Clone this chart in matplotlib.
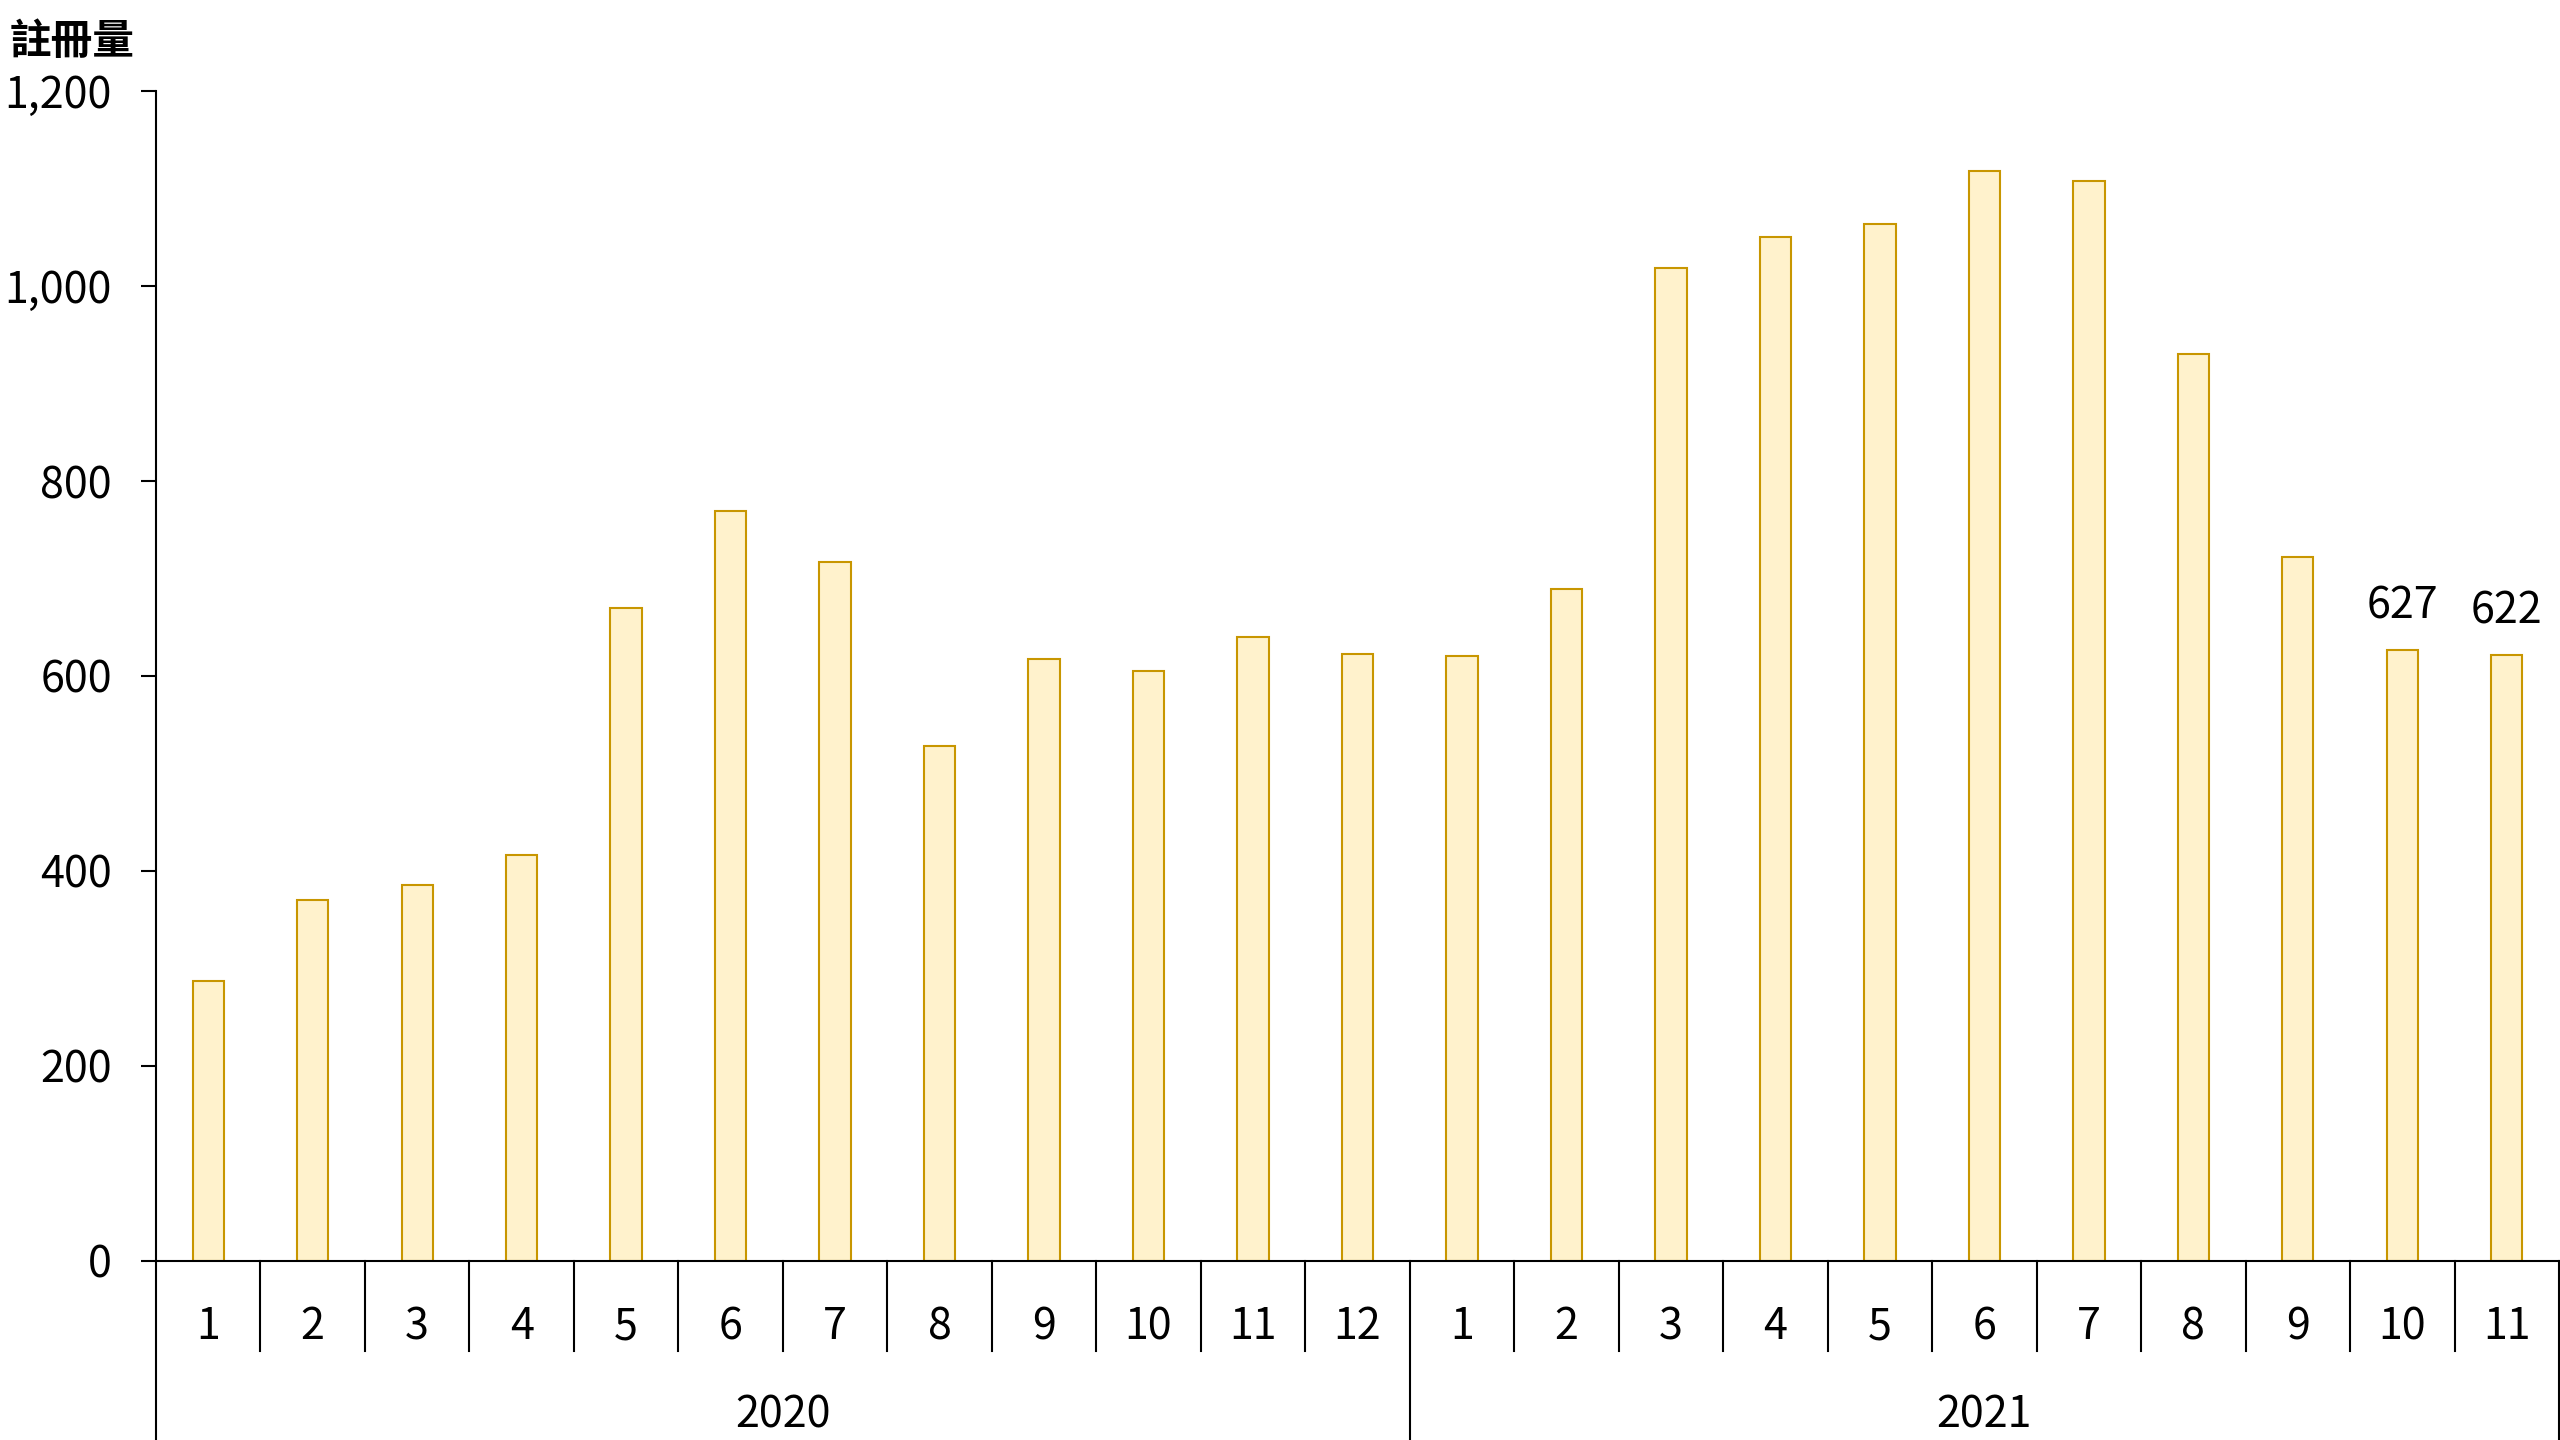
import matplotlib
matplotlib.use("Agg")
import matplotlib.pyplot as plt
import matplotlib.transforms as mtransforms
from matplotlib.ticker import FuncFormatter

plt.rcParams['font.family'] = ['Noto Sans CJK TC', 'DejaVu Sans']

# ---- data ----
months = ["1", "2", "3", "4", "5", "6", "7", "8", "9", "10", "11", "12",
          "1", "2", "3", "4", "5", "6", "7", "8", "9", "10", "11"]
years = ["2020", "2021"]
year_counts = [12, 11]
values = [287, 370, 385, 416, 670, 769, 717, 528, 617, 605, 640, 623,
          620, 689, 1019, 1051, 1064, 1118, 1108, 930, 722, 627, 622]
labeled_idx = [21, 22]
y_ticks = [0, 200, 400, 600, 800, 1000, 1200]
title = "註冊量"

# ---- figure ----
W, H = 2560, 1440
fig = plt.figure(figsize=(W / 100, H / 100), dpi=100)
left, right = 156 / W, 2559 / W
bottom, top = (H - 1260.5) / H, (H - 91.4) / H
ax = fig.add_axes([left, bottom, right - left, top - bottom])

n = len(values)
x = list(range(n))
ax.bar(x, values, width=0.3, color="#FFF2CC", edgecolor="#C89600", linewidth=1.5, zorder=2)

ax.set_xlim(-0.5, n - 0.5)
ax.set_ylim(0, 1200)
ax.set_yticks(y_ticks)
ax.yaxis.set_major_formatter(FuncFormatter(lambda v, p: f"{int(v):,}"))
ax.tick_params(axis='y', direction='out', length=10.8, width=1.5, pad=21, labelsize=31)
ax.set_xticks([])

for s in ["top", "right"]:
    ax.spines[s].set_visible(False)
for s in ["left", "bottom"]:
    ax.spines[s].set_linewidth(1.5)
    ax.spines[s].set_color("black")

trans = mtransforms.blended_transform_factory(ax.transData, ax.transAxes)
month_y = (1260.5 - 1327) / 1169.1
year_y = (1260.5 - 1416) / 1169.1
sep_month = (1260.5 - 1350.5) / 1169.1
sep_year = (1260.5 - 1445) / 1169.1

for i, m in enumerate(months):
    ax.text(i, month_y, m, transform=trans, ha="center", va="center", fontsize=31)

# month / year separators
year_bounds = [-0.5]
acc = -0.5
for c in year_counts:
    acc += c
    year_bounds.append(acc)
for i in range(n + 1):
    b = i - 0.5
    if any(abs(b - yb) < 1e-9 for yb in year_bounds):
        ax.plot([b, b], [0, sep_year], transform=trans, color="black", lw=1.5, clip_on=False)
    else:
        ax.plot([b, b], [0, sep_month], transform=trans, color="black", lw=1.5, clip_on=False)

for yi, yname in enumerate(years):
    c = (year_bounds[yi] + year_bounds[yi + 1]) / 2
    ax.text(c, year_y, yname, transform=trans, ha="center", va="center", fontsize=31)

for i in labeled_idx:
    ax.annotate(f"{values[i]}", (i, values[i]), xytext=(0, 31), textcoords="offset points",
                ha="center", va="center", fontsize=31)

fig.text(10 / W, 1 - 42 / H, title, ha="left", va="center", fontsize=30, fontweight="bold")

fig.savefig("out.png", dpi=100)
